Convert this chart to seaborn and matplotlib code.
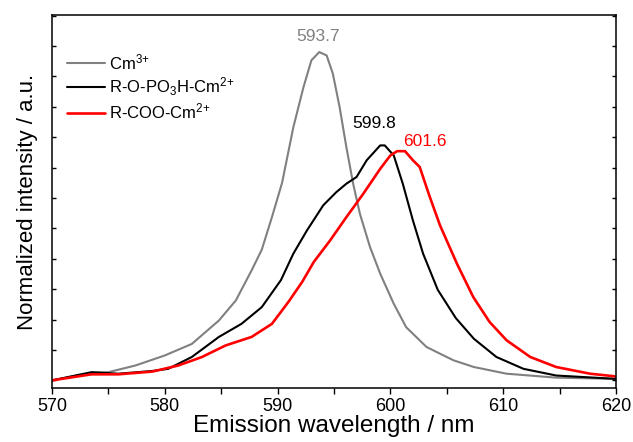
import matplotlib
matplotlib.use("Agg")
import matplotlib.pyplot as plt
import seaborn as sns
from matplotlib.ticker import MultipleLocator

# values (wavelength in nm, normalized intensity)
wl_cm = [570, 573.5, 575, 577.4, 580, 582.4, 584.8, 586.3, 587.7, 588.6, 589.5, 590.4,
         591.4, 592.3, 593.0, 593.7, 594.35, 594.9, 595.5, 596.1, 596.7, 597.3, 598.2,
         599.1, 600.3, 601.4, 603.2, 604.5, 605.6, 607.4, 610.3, 614.7, 620]
int_cm = [0.0, 0.025, 0.027, 0.049, 0.082, 0.12, 0.197, 0.263, 0.362, 0.43, 0.537, 0.65,
          0.833, 0.965, 1.053, 1.08, 1.069, 1.009, 0.899, 0.767, 0.647, 0.548, 0.438,
          0.351, 0.252, 0.175, 0.11, 0.086, 0.066, 0.044, 0.022, 0.009, 0.005]

wl_po3h = [570, 573.5, 575.9, 578.9, 580.3, 582.4, 584.8, 586.8, 588.6, 590.3, 591.4,
           592.6, 594.05, 595.2, 596.1, 597.0, 597.9, 599.1, 599.5, 600.3, 601.1, 602.0,
           602.9, 604.2, 605.8, 607.4, 609.4, 611.8, 614.7, 620]
int_po3h = [0.0, 0.027, 0.022, 0.031, 0.038, 0.077, 0.143, 0.186, 0.241, 0.33, 0.417,
            0.493, 0.576, 0.619, 0.647, 0.669, 0.724, 0.773, 0.773, 0.74, 0.647, 0.526,
            0.417, 0.298, 0.205, 0.137, 0.077, 0.038, 0.016, 0.005]

wl_coo = [570, 573.5, 575.9, 578.9, 581.2, 583.3, 585.4, 587.7, 589.5, 591.0, 592.2,
          593.2, 594.65, 596.1, 597.6, 599.1, 600.0, 600.6, 601.3, 602.0, 602.6, 603.5,
          604.4, 605.9, 607.35, 608.8, 610.3, 612.4, 614.7, 617.7, 620]
int_coo = [0.0, 0.02, 0.02, 0.029, 0.049, 0.077, 0.115, 0.143, 0.186, 0.26, 0.325,
           0.389, 0.46, 0.537, 0.614, 0.696, 0.74, 0.754, 0.754, 0.724, 0.702, 0.603,
           0.51, 0.384, 0.274, 0.192, 0.132, 0.077, 0.044, 0.022, 0.013]

labels = [r"Cm$^{3\!+}$", r"R-O-PO$_3$H-Cm$^{2\!+}$", r"R-COO-Cm$^{2\!+}$"]
colors = ["#808080", "black", "red"]
peak_text = ["593.7", "599.8", "601.6"]

sns.set_style("ticks")
plt.rcParams["font.family"] = ["Liberation Sans", "DejaVu Sans"]
plt.rcParams["mathtext.fontset"] = "custom"
plt.rcParams["mathtext.rm"] = "Liberation Sans"
plt.rcParams["mathtext.it"] = "Liberation Sans:italic"
for key in ["text.color", "axes.labelcolor", "xtick.color", "ytick.color"]:
    plt.rcParams[key] = "black"

fig = plt.figure(figsize=(6.33, 4.42), dpi=100)
ax = fig.add_axes([0.0821, 0.1222, 0.891, 0.8439])

series = [(wl_cm, int_cm), (wl_po3h, int_po3h), (wl_coo, int_coo)]
widths = [1.5, 1.5, 1.9]
for (x, y), lab, col, lw in zip(series, labels, colors, widths):
    sns.lineplot(x=x, y=y, ax=ax, color=col, lw=lw, label=lab, sort=False)

# peak annotations
ax.text(593.6, 1.13, peak_text[0], color=colors[0], fontsize=12.5, ha="center", va="center")
ax.text(598.6, 0.845, peak_text[1], color=colors[1], fontsize=12.5, ha="center", va="center")
ax.text(603.1, 0.785, peak_text[2], color=colors[2], fontsize=12.5, ha="center", va="center")

ax.set_xlim(570, 620)
ax.set_ylim(-0.025, 1.202)
ax.xaxis.set_major_locator(MultipleLocator(10))
ax.xaxis.set_minor_locator(MultipleLocator(5))
ax.yaxis.set_major_locator(MultipleLocator(0.1))
ax.tick_params(axis="x", which="both", direction="out", length=4, width=1, labelsize=13, top=False)
ax.tick_params(axis="y", direction="in", length=3, width=1, left=True, right=True, labelleft=False)
for sp in ax.spines.values():
    sp.set_visible(True)
    sp.set_linewidth(1.1)
    sp.set_color("black")

ax.set_xlabel("Emission wavelength / nm", fontsize=17.5, labelpad=0)
ax.set_ylabel("Normalized intensity / a.u.", fontsize=16, labelpad=10)

ax.legend(loc="upper left", bbox_to_anchor=(0.0, 0.94), frameon=False, fontsize=12,
          handlelength=2.3, handletextpad=0.2, labelspacing=0.2, borderaxespad=0.5)

fig.savefig("out.png", dpi=100)
